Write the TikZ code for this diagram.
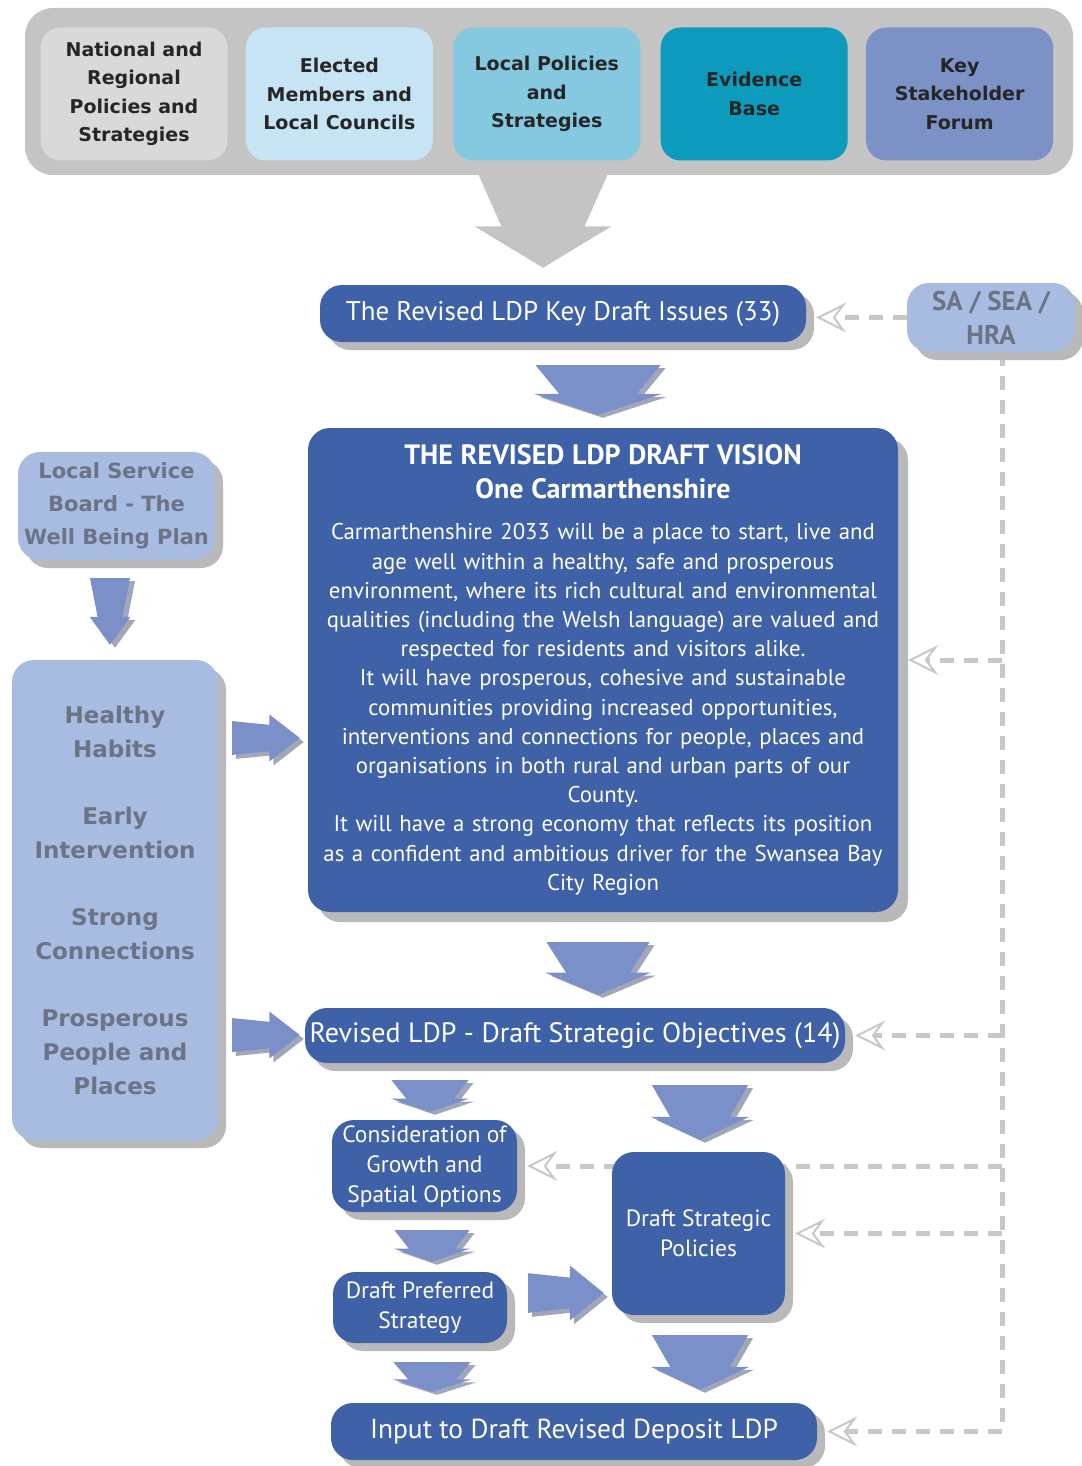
\documentclass[tikz,border=0pt]{standalone}
\usepackage{fontspec}
\setmainfont{PT Sans}
\newfontfamily\srcfont{DejaVu Sans}
\usetikzlibrary{arrows.meta,calc,positioning,shadows}
\pgfdeclarelayer{background}
\pgfsetlayers{background,main}

\definecolor{ldpblue}{HTML}{3E61A8}
\definecolor{paleblue}{HTML}{A7BCE0}
\definecolor{arrowblue}{HTML}{7B8FC9}
\definecolor{arrowshade}{HTML}{A2A7B8}
\definecolor{panelgrey}{HTML}{C4C4C4}
\definecolor{shadowgrey}{HTML}{B9B9B9}
\definecolor{dashgrey}{HTML}{C8C8C8}
\definecolor{labelgrey}{HTML}{6C7386}
\definecolor{natlgrey}{HTML}{D9D9D9}
\definecolor{memberblue}{HTML}{C7E4F4}
\definecolor{localblue}{HTML}{84C9DF}
\definecolor{evidteal}{HTML}{0C9BBC}
\definecolor{forumblue}{HTML}{7C91C6}

\tikzset{
  panel/.style={fill=panelgrey, rounded corners=28pt, minimum width=1048pt, minimum height=167pt},
  srcbox/.style={rounded corners=20pt, minimum width=187pt, minimum height=133pt, align=center,
    text=black!85, font=\srcfont\bfseries\fontsize{19}{28.5}\selectfont},
  ldpbox/.style={fill=ldpblue, text=white, align=center, rounded corners=22pt, inner sep=0pt,
    drop shadow={shadow xshift=#1, shadow yshift=-#1, fill=shadowgrey, opacity=1}},
  ldpbox/.default=8pt,
  wellbox/.style={fill=paleblue, text=labelgrey, align=center, rounded corners=22pt, inner sep=0pt,
    font=\srcfont\bfseries\fontsize{21}{33}\selectfont,
    drop shadow={shadow xshift=8pt, shadow yshift=-8pt, fill=shadowgrey, opacity=1}},
  busline/.style={draw=dashgrey, line width=5pt, dash pattern=on 14pt off 10pt},
  feedline/.style={busline, shorten >=10pt,
    -{Stealth[length=30pt,width=30pt,inset=11pt,open,line width=2pt]}},
}

% block arrows, drawn between two points
\newcommand\dnshape[4]{% top, tip, width, colour
  \fill[#4] ($(#1)+(-#3/2,0)$) -- ($(#1)+(#3/2,0)$)
    -- ($(#1)!.58!(#2)+(.31*#3,0)$) -- ($(#1)!.58!(#2)+(.51*#3,0)$) -- (#2)
    -- ($(#1)!.58!(#2)+(-.51*#3,0)$) -- ($(#1)!.58!(#2)+(-.31*#3,0)$) -- cycle;}
\newcommand\rtshape[4]{% tail, tip, height, colour
  \fill[#4] ($(#1)+(0,-.36*#3)$) -- ($(#1)!.55!(#2)+(0,-.28*#3)$)
    -- ($(#1)!.55!(#2)+(0,-.5*#3)$) -- (#2) -- ($(#1)!.55!(#2)+(0,.5*#3)$)
    -- ($(#1)!.55!(#2)+(0,.28*#3)$) -- ($(#1)+(0,.36*#3)$) -- cycle;}
\newcommand\blockdown[6]{% from, to, x, width, gap at top, gap at tip
  \path ($(#1.south -| #3,0)+(0,#5)$) coordinate (dtop)
        ($(#2.north -| #3,0)+(0,-#6)$) coordinate (dtip)
        ($(dtop)+(5,3)$) coordinate (dtops) ($(dtip)+(5,3)$) coordinate (dtips);
  \dnshape{dtops}{dtips}{#4}{arrowshade}
  \dnshape{dtop}{dtip}{#4}{arrowblue}}
\newcommand\blockright[6]{% from, to, y, height, gap at tail, gap at tip
  \path ($(#1.east |- 0,#3)+(#5,0)$) coordinate (rtail)
        ($(#2.west |- 0,#3)+(-#6,0)$) coordinate (rtip)
        ($(rtail)+(4,4)$) coordinate (rtails) ($(rtip)+(4,4)$) coordinate (rtips);
  \rtshape{rtails}{rtips}{#4}{arrowshade}
  \rtshape{rtail}{rtip}{#4}{arrowblue}}

\begin{document}
\begin{tikzpicture}[x=1pt,y=-1pt]
  \useasboundingbox (0,0) rectangle (1081,1466);

  % inputs
  \node[panel] (panel) at (549,91.5) {};
  \node[srcbox, fill=natlgrey] (natl) at (134,94) {National and\\Regional\\Policies and\\Strategies};
  \node[srcbox, fill=memberblue, right=18pt of natl] (members) {Elected\\Members and\\Local Councils};
  \node[srcbox, fill=localblue, right=20pt of members] (local) {Local Policies\\and\\Strategies};
  \node[srcbox, fill=evidteal, right=20pt of local] (evidence) {Evidence\\Base};
  \node[srcbox, fill=forumblue, right=18pt of evidence] (forum) {Key\\Stakeholder\\Forum};

  % main column
  \node[ldpbox, minimum width=486pt, minimum height=57pt, font=\fontsize{27}{30}\selectfont]
    (issues) at (563,313.5) {The Revised LDP Key Draft Issues (33)};
  \node[wellbox, minimum width=168pt, minimum height=69pt, font=\bfseries\fontsize{27}{34}\selectfont]
    (sa) at (991,317.5) {SA / SEA /\\HRA};
  \node[ldpbox=10pt, minimum width=590pt, minimum height=484pt, text width=580pt,
    font=\fontsize{22.8}{29.2}\selectfont] (vision) at (603,670) {%
    {\bfseries\fontsize{28}{34}\selectfont THE REVISED LDP DRAFT VISION\\One Carmarthenshire\par}
    \vspace{12pt}
    Carmarthenshire 2033 will be a place to start, live and\\
    age well within a healthy, safe and prosperous\\
    environment, where its rich cultural and environmental\\
    qualities (including the Welsh language) are valued and\\
    respected for residents and visitors alike.\\
    It will have prosperous, cohesive and sustainable\\
    communities providing increased opportunities,\\
    interventions and connections for people, places and\\
    organisations in both rural and urban parts of our\\
    County.\\
    It will have a strong economy that reflects its position\\
    as a confident and ambitious driver for the Swansea Bay\\
    City Region\par};
  \node[ldpbox, minimum width=540pt, minimum height=55pt, font=\fontsize{28}{30}\selectfont]
    (objectives) at (575,1035.5) {Revised LDP - Draft Strategic Objectives (14)};
  \node[ldpbox, minimum width=185pt, minimum height=92pt, font=\fontsize{23.5}{30}\selectfont]
    (growth) at (424.5,1166) {Consideration of\\Growth and\\Spatial Options};
  \node[ldpbox, minimum width=173pt, minimum height=163pt, font=\fontsize{23.5}{30}\selectfont]
    (policies) at (698.5,1233.5) {Draft Strategic\\Policies};
  \node[ldpbox, minimum width=174pt, minimum height=71pt, font=\fontsize{23.5}{30}\selectfont]
    (preferred) at (420,1307.5) {Draft Preferred\\Strategy};
  \node[ldpbox, minimum width=486pt, minimum height=57pt, font=\fontsize{27.5}{30}\selectfont]
    (input) at (574,1431.5) {Input to Draft Revised Deposit LDP};

  % well being plan
  \node[wellbox, minimum width=197pt, minimum height=108pt] (lsb) at (116.5,506)
    {Local Service\\Board - The\\Well Being Plan};
  \node[wellbox, minimum width=206pt, minimum height=480pt, font=\srcfont\bfseries\fontsize{23}{34}\selectfont]
    (themes) at (115,900)
    {Healthy\\Habits\\[33pt]Early\\Intervention\\[33pt]Strong\\Connections\\[33pt]Prosperous\\People and\\Places};

  % big grey arrow out of the panel
  \path ($(panel.south -| 543,0)+(0,-6)$) coordinate (ptop)
        ($(issues.north -| 543,0)+(0,-17)$) coordinate (ptip);
  \dnshape{ptop}{ptip}{134}{panelgrey}

  \blockdown{issues}{vision}{598}{125}{23}{13}
  \blockdown{vision}{objectives}{598}{103}{30}{13}
  \blockdown{objectives}{growth}{430}{77}{17}{8}
  \blockdown{objectives}{policies}{700}{96}{22}{12}
  \blockdown{growth}{preferred}{432}{75}{18}{10}
  \blockdown{preferred}{input}{432}{77}{19}{11}
  \blockdown{policies}{input}{700}{96}{20}{13}
  \blockdown{lsb}{themes}{110}{40}{18}{15}
  \blockright{themes}{vision}{738}{47}{14}{8}
  \blockright{themes}{objectives}{1035}{47}{14}{5}
  \blockright{preferred}{policies}{1293}{55}{21}{8}

  % SA / SEA / HRA feedback
  \coordinate (bus) at (1002,0);
  \begin{pgfonlayer}{background}
    \draw[feedline] (sa.west) -- (sa.west -| issues.east);
    \draw[busline] (bus |- sa.south) -- (bus |- input.east);
    \draw[feedline] ($(bus |- vision.east)+(0,-10)$) -- ($(vision.east)+(0,-10)$);
    \draw[feedline] (bus |- objectives.east) -- (objectives.east);
    \draw[feedline] (bus |- growth.east) -- (growth.east);
    \draw[feedline] (bus |- policies.east) -- (policies.east);
    \draw[feedline] (bus |- input.east) -- (input.east);
  \end{pgfonlayer}
\end{tikzpicture}
\end{document}
